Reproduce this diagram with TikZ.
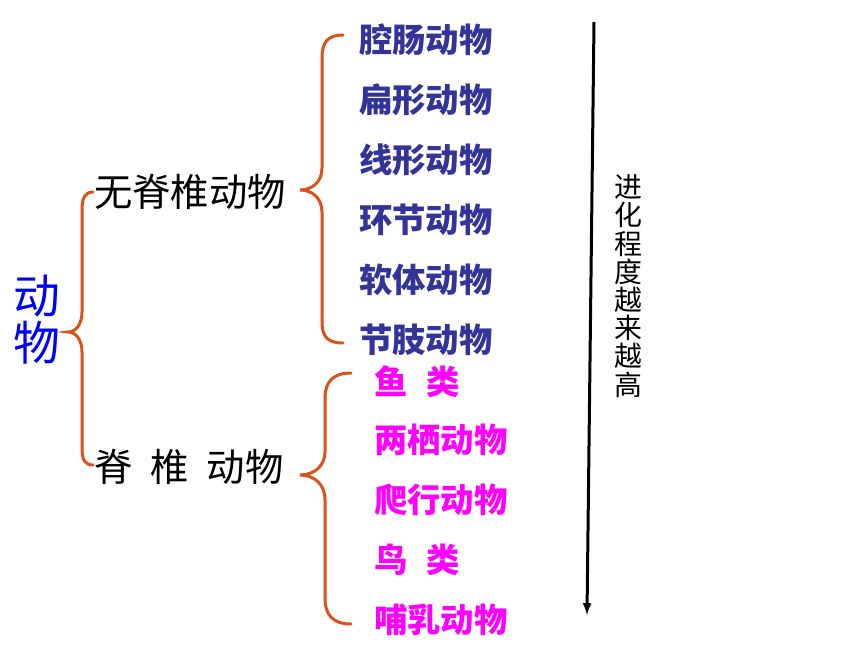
\documentclass[tikz,border=0pt]{standalone}
\usepackage{fontspec}
\newfontfamily\cjk{Noto Sans CJK SC}
\usetikzlibrary{arrows}
\definecolor{brcorange}{RGB}{217,83,25}
\definecolor{invblue}{RGB}{51,51,153}
\definecolor{vertpink}{RGB}{255,0,255}
\tikzset{
  brc/.style={draw=brcorange, line width=3bp, line cap=round},
  inv/.style={anchor=west, inner sep=0pt, text=invblue, font=\cjk\bfseries\fontsize{33.5}{36}\selectfont},
  vert/.style={anchor=west, inner sep=0pt, text=vertpink, font=\cjk\bfseries\fontsize{33.5}{36}\selectfont},
  grp/.style={anchor=west, inner sep=0pt, font=\cjk\fontsize{38.5}{40}\selectfont}
}

\begin{document}
\begin{tikzpicture}[>=latex, x=1bp, y=-1bp]
        \useasboundingbox (0,0) rectangle (860,645);

        \node[inner sep=0pt, text=blue, align=center, font=\cjk\fontsize{47}{47}\selectfont] (animal) at (37,320) {动\\物};

        \node[grp] (invert) at (94,192) {无脊椎动物};
        \node[grp] (vertebr) at (94,467) {脊\hspace{18bp}椎\hspace{18bp}动物};

        \node[inv] (coel) at (359,40) {腔肠动物};
        \node[inv] (flat) at (359,100) {扁形动物};
        \node[inv] (round) at (359,160) {线形动物};
        \node[inv] (annel) at (359,220) {环节动物};
        \node[inv] (moll) at (359,280) {软体动物};
        \node[inv] (arth) at (359,340) {节肢动物};

        \node[vert] (fish) at (374,382) {鱼\hspace{19bp}类};
        \node[vert] (amph) at (374,440) {两栖动物};
        \node[vert] (rept) at (374,500) {爬行动物};
        \node[vert] (bird) at (374,560) {鸟\hspace{19bp}类};
        \node[vert] (mamm) at (374,620) {哺乳动物};

        % braces
        \draw[brc] (93,192) .. controls (85,192) and (82,198) .. (82,210)
                -- (82,312) .. controls (82,324) and (76,332) .. (68,332)
                .. controls (76,332) and (82,340) .. (82,352)
                -- (82,448) .. controls (82,460) and (85,465) .. (93,465);
        \draw[brc] (343,35) .. controls (328,35) and (322,42) .. (322,58)
                -- (322,168) .. controls (322,182) and (312,190) .. (300,190)
                .. controls (312,190) and (322,198) .. (322,212)
                -- (322,322) .. controls (322,337) and (328,343) .. (343,343);
        \draw[brc] (351,373) .. controls (333,373) and (325,382) .. (325,398)
                -- (325,452) .. controls (325,466) and (314,475) .. (300,475)
                .. controls (314,475) and (325,484) .. (325,500)
                -- (325,598) .. controls (325,615) and (333,624) .. (351,624);

        % evolution arrow
        \coordinate (top) at (594,22);
        \coordinate (bot) at (587,615);
        \draw[->, line width=3bp] (top) -- (bot);
        \node[inner sep=0pt, align=center, font=\cjk\fontsize{28}{28.3}\selectfont] (level) at (628,286)
                {进\\化\\程\\度\\越\\来\\越\\高};
\end{tikzpicture}
\end{document}
